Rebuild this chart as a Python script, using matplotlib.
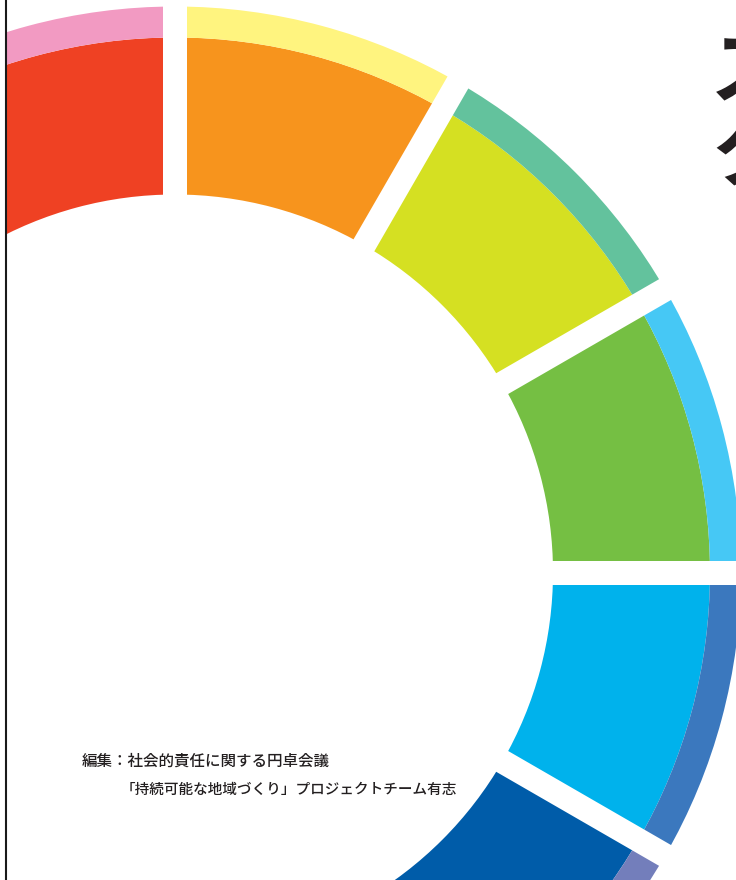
import numpy as np
from matplotlib import pyplot as plt
from matplotlib.patches import Wedge, Polygon
from matplotlib.lines import Line2D

plt.rcParams['font.family'] = ['Noto Sans CJK JP', 'DejaVu Sans']

# ring segments: start angle, end angle (degrees), main colour, rim colour
seg_start = [90, 60, 30, 0, -30, -60]
seg_end = [120, 90, 60, 30, 0, -30]
main_colors = ['#EF4123', '#F7941D', '#D5E022', '#75BF43', '#00B2EC', '#005CA9']
rim_colors = ['#F29AC2', '#FFF47F', '#63C29D', '#46C8F5', '#3B78BE', '#737EBB']

title_lines = ['スマート', 'クリエイト']
credit_lines = ['編集：社会的責任に関する円卓会議',
                '「持続可能な地域づくり」プロジェクトチーム有志']

W, H = 736, 880
cx, cy = 175, H - 572.5
r_in, r_mid, r_out = 378, 535, 566
gap = 12

fig = plt.figure(figsize=(W / 100, H / 100), dpi=100)
ax = fig.add_axes([7 / W, 0, (W - 7) / W, 1])
ax.set_xlim(7, W)
ax.set_ylim(0, H)
ax.axis('off')

for a0, a1, c_main, c_rim in zip(seg_start, seg_end, main_colors, rim_colors):
    ax.add_patch(Wedge((cx, cy), r_mid, a0, a1, width=r_mid - r_in,
                       facecolor=c_main, edgecolor='none'))
    ax.add_patch(Wedge((cx, cy), r_out, a0, a1, width=r_out - r_mid,
                       facecolor=c_rim, edgecolor='none'))

# white gaps between segments
for a in sorted(set(seg_start + seg_end)):
    t = np.radians(a)
    d = np.array([np.cos(t), np.sin(t)])
    p = np.array([-d[1], d[0]]) * gap
    c = np.array([cx, cy])
    far = c + d * 700
    ax.add_patch(Polygon([c + p, far + p, far - p, c - p],
                         facecolor='white', edgecolor='none'))

# big title, cut off at the right edge
fig.text(710 / W, 1 - 73 / H, title_lines[0], fontsize=58, color='#231F20',
         ha='left', va='center', fontweight='bold')
fig.text(710 / W, 1 - 157 / H, title_lines[1], fontsize=58, color='#231F20',
         ha='left', va='center', fontweight='bold')

fig.text(82 / W, 1 - 761 / H, credit_lines[0], fontsize=11.2, color='#231F20',
         ha='left', va='center', fontweight='medium')
fig.text(121 / W, 1 - 790 / H, credit_lines[1], fontsize=10.5, color='#231F20',
         ha='left', va='center', fontweight='medium')

fig.add_artist(Line2D([6.3 / W, 6.3 / W], [0, 1], color='#1a1a1a', lw=1.5,
                      transform=fig.transFigure))

fig.savefig('out.png', dpi=100)
